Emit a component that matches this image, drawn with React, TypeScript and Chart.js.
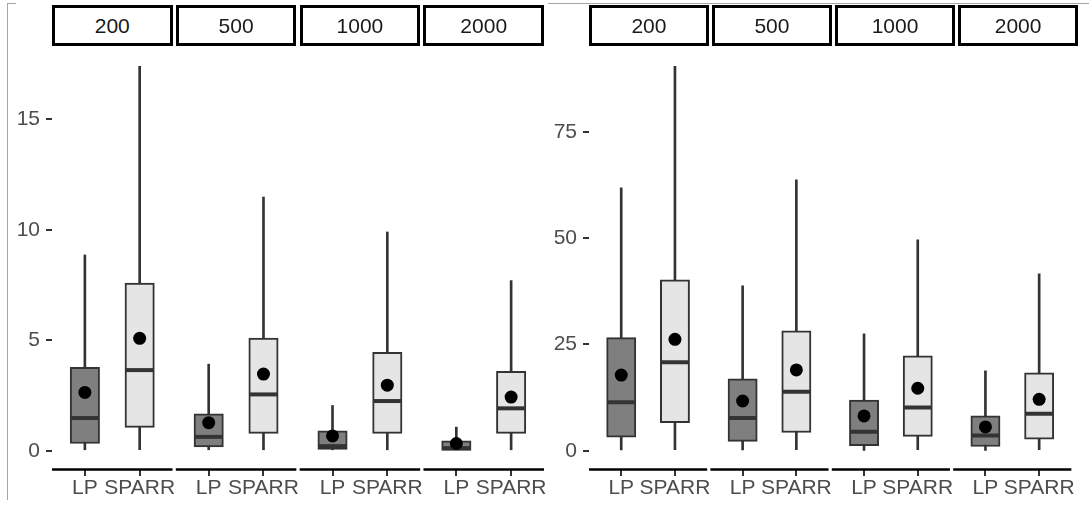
import React, { useEffect, useRef } from "react";
import { Chart, registerables } from "chart.js";

Chart.register(...registerables);

const FONT = '"Liberation Sans", Arial, Helvetica, sans-serif';
const W = 1089;
const H = 506;

const facetLabels = ["200", "500", "1000", "2000"];
const methodLabels = ["LP", "SPARR"];

// ---- Left panel (values) ----
const leftLpLow = [0, 0, 0, 0];
const leftLpQ1 = [0.33, 0.17, 0.06, 0.02];
const leftLpMedian = [1.48, 0.63, 0.21, 0.12];
const leftLpQ3 = [3.77, 1.67, 0.9, 0.45];
const leftLpHigh = [8.86, 3.92, 2.05, 1.07];
const leftLpMean = [2.64, 1.27, 0.67, 0.33];

const leftSparrLow = [0, 0, 0, 0];
const leftSparrQ1 = [1.06, 0.79, 0.79, 0.79];
const leftSparrMedian = [3.65, 2.55, 2.25, 1.92];
const leftSparrQ3 = [7.59, 5.1, 4.45, 3.6];
const leftSparrHigh = [17.4, 11.48, 9.9, 7.7];
const leftSparrMean = [5.09, 3.47, 2.97, 2.43];

const leftYTicks = [0, 5, 10, 15];

// ---- Right panel (values) ----
const rightLpLow = [0.2, 0.2, 0.1, 0.1];
const rightLpQ1 = [3.2, 2.2, 1.2, 1.0];
const rightLpMedian = [11.4, 7.7, 4.5, 3.6];
const rightLpQ3 = [26.6, 16.9, 11.9, 8.2];
const rightLpHigh = [61.8, 38.8, 27.5, 18.8];
const rightLpMean = [17.8, 11.7, 8.2, 5.6];

const rightSparrLow = [0, 0, 0, 0];
const rightSparrQ1 = [6.6, 4.3, 3.4, 2.7];
const rightSparrMedian = [20.8, 13.9, 10.2, 8.7];
const rightSparrQ3 = [40.2, 28.2, 22.3, 18.3];
const rightSparrHigh = [90.4, 63.7, 49.6, 41.6];
const rightSparrMean = [26.2, 19.0, 14.7, 12.1];

const rightYTicks = [0, 25, 50, 75];

// ---- layout (facet geometry in x units, ggplot-like) ----
const FACET_UNITS = 2.2;
const GAP_UNITS = 0.06;
const X_MAX = 4 * FACET_UNITS + 3 * GAP_UNITS;
const AREA_TOP = 47;
const AREA_BOTTOM = 470;

type Panel = {
  padLeft: number;
  yWidth: number;
  areaRight: number;
  yTicks: number[];
  lp: number[][]; // low,q1,med,q3,high,mean
  sp: number[][];
};

const leftPanel: Panel = {
  padLeft: 0,
  yWidth: 52,
  areaRight: 544,
  yTicks: leftYTicks,
  lp: [leftLpLow, leftLpQ1, leftLpMedian, leftLpQ3, leftLpHigh, leftLpMean],
  sp: [leftSparrLow, leftSparrQ1, leftSparrMedian, leftSparrQ3, leftSparrHigh, leftSparrMean],
};

const rightPanel: Panel = {
  padLeft: 548,
  yWidth: 41,
  areaRight: 1078,
  yTicks: rightYTicks,
  lp: [rightLpLow, rightLpQ1, rightLpMedian, rightLpQ3, rightLpHigh, rightLpMean],
  sp: [rightSparrLow, rightSparrQ1, rightSparrMedian, rightSparrQ3, rightSparrHigh, rightSparrMean],
};

const facetStart = (k: number) => k * (FACET_UNITS + GAP_UNITS);
const lpPos = (k: number) => facetStart(k) + 0.6;
const spPos = (k: number) => facetStart(k) + 1.6;

const areaLeft = (p: Panel) => p.padLeft + p.yWidth;
const unitPx = (p: Panel) => (p.areaRight - areaLeft(p)) / X_MAX;

const facetAxisPlugin = {
  id: "facetAxis",
  afterDraw(chart: any) {
    const xs = chart.scales.x;
    const ctx = chart.ctx;
    const y = chart.chartArea.bottom - 0.5;
    ctx.save();
    ctx.strokeStyle = "#000000";
    ctx.lineWidth = 2.4;
    facetLabels.forEach((_, k) => {
      ctx.beginPath();
      ctx.moveTo(xs.getPixelForValue(facetStart(k)), y);
      ctx.lineTo(xs.getPixelForValue(facetStart(k) + FACET_UNITS), y);
      ctx.stroke();
    });
    ctx.restore();
  },
};

function buildChart(canvas: HTMLCanvasElement, p: Panel) {
  const u = unitPx(p);
  const boxPx = u * 0.5;
  const maxVal = Math.max(...p.sp[4], ...p.lp[4]);
  const yMin = -0.05 * maxVal;
  const yMax = maxVal * 1.05;
  const ks = facetLabels.map((_, k) => k);
  const tickPositions: number[] = [];
  ks.forEach((k) => {
    tickPositions.push(lpPos(k), spPos(k));
  });

  const whiskers = [
    ...ks.map((k) => ({ x: lpPos(k), y: [p.lp[0][k], p.lp[4][k]] })),
    ...ks.map((k) => ({ x: spPos(k), y: [p.sp[0][k], p.sp[4][k]] })),
  ];
  const lpBoxes = ks.map((k) => ({ x: lpPos(k), y: [p.lp[1][k], p.lp[3][k]] }));
  const spBoxes = ks.map((k) => ({ x: spPos(k), y: [p.sp[1][k], p.sp[3][k]] }));
  const medians = [
    ...ks.map((k) => ({ x: lpPos(k), y: p.lp[2][k] })),
    ...ks.map((k) => ({ x: spPos(k), y: p.sp[2][k] })),
  ];
  const means = [
    ...ks.map((k) => ({ x: lpPos(k), y: p.lp[5][k] })),
    ...ks.map((k) => ({ x: spPos(k), y: p.sp[5][k] })),
  ];

  return new Chart(canvas, {
    type: "bar",
    data: {
      datasets: [
        {
          type: "line",
          label: "mean",
          data: means,
          showLine: false,
          pointStyle: "circle",
          pointRadius: 6.5,
          pointBackgroundColor: "#000000",
          pointBorderColor: "#000000",
          pointBorderWidth: 0,
          order: 1,
        } as any,
        {
          type: "line",
          label: "median",
          data: medians,
          showLine: false,
          pointStyle: "line",
          pointRadius: boxPx / 2,
          borderColor: "#333333",
          pointBorderColor: "#333333",
          pointBorderWidth: 4,
          order: 2,
        } as any,
        {
          type: "bar",
          label: "LP",
          data: lpBoxes,
          backgroundColor: "#7f7f7f",
          borderColor: "#333333",
          borderWidth: 2,
          borderSkipped: false,
          barThickness: boxPx + 2,
          grouped: false,
          order: 3,
        } as any,
        {
          type: "bar",
          label: "SPARR",
          data: spBoxes,
          backgroundColor: "#e5e5e5",
          borderColor: "#333333",
          borderWidth: 2,
          borderSkipped: false,
          barThickness: boxPx + 2,
          grouped: false,
          order: 3,
        } as any,
        {
          type: "bar",
          label: "whisker",
          data: whiskers,
          backgroundColor: "#333333",
          borderWidth: 0,
          barThickness: 2,
          grouped: false,
          order: 4,
        } as any,
      ],
    },
    options: {
      responsive: false,
      animation: false,
      layout: {
        padding: { left: p.padLeft, right: W - p.areaRight, top: AREA_TOP, bottom: 0 },
      },
      plugins: {
        legend: { display: false },
        tooltip: { enabled: false },
        title: { display: false },
      },
      scales: {
        x: {
          type: "linear",
          min: 0,
          max: X_MAX,
          offset: false,
          bounds: "data",
          grid: {
            display: true,
            drawOnChartArea: false,
            drawTicks: true,
            tickLength: 6,
            color: "#333333",
            lineWidth: 2,
            offset: false,
          },
          border: { display: false },
          afterBuildTicks: (s: any) => {
            s.ticks = tickPositions.map((v) => ({ value: v }));
          },
          afterFit: (s: any) => {
            s.height = H - AREA_BOTTOM;
          },
          ticks: {
            autoSkip: false,
            maxRotation: 0,
            minRotation: 0,
            padding: 0,
            color: "#4d4d4d",
            font: { family: FONT, size: 21 },
            callback: (_v: any, i: number) => methodLabels[i % 2],
          },
        },
        y: {
          type: "linear",
          min: yMin,
          max: yMax,
          bounds: "data",
          grid: {
            display: true,
            drawOnChartArea: false,
            drawTicks: true,
            tickLength: 6,
            color: "#333333",
            lineWidth: 2,
          },
          border: { display: false },
          afterBuildTicks: (s: any) => {
            s.ticks = p.yTicks.map((v) => ({ value: v }));
          },
          afterFit: (s: any) => {
            s.width = p.yWidth;
          },
          ticks: {
            padding: 6,
            color: "#4d4d4d",
            font: { family: FONT, size: 21 },
            callback: (v: any) => String(v),
          },
        },
      },
    } as any,
    plugins: [facetAxisPlugin],
  });
}

function Strips({ p }: { p: Panel }) {
  const u = unitPx(p);
  return (
    <>
      {facetLabels.map((lab, k) => (
        <div
          key={lab}
          style={{
            position: "absolute",
            left: areaLeft(p) + facetStart(k) * u,
            top: 5,
            width: FACET_UNITS * u,
            height: 41,
            boxSizing: "border-box",
            border: "3px solid #000",
            background: "#fff",
            display: "flex",
            alignItems: "center",
            justifyContent: "center",
            fontFamily: FONT,
            fontSize: 21,
            color: "#1a1a1a",
          }}
        >
          {lab}
        </div>
      ))}
    </>
  );
}

export default function App() {
  const leftRef = useRef<HTMLCanvasElement>(null);
  const rightRef = useRef<HTMLCanvasElement>(null);

  useEffect(() => {
    const a = buildChart(leftRef.current!, leftPanel);
    const b = buildChart(rightRef.current!, rightPanel);
    return () => {
      a.destroy();
      b.destroy();
    };
  }, []);

  const canvasStyle: React.CSSProperties = {
    position: "absolute",
    left: 0,
    top: 0,
    width: W,
    height: H,
    display: "block",
  };

  return (
    <div
      style={{
        position: "absolute",
        left: 0,
        top: 0,
        width: W,
        height: H,
        background: "#ffffff",
        overflow: "hidden",
      }}
    >
      <canvas ref={leftRef} width={W} height={H} style={canvasStyle} />
      <canvas ref={rightRef} width={W} height={H} style={canvasStyle} />
      <Strips p={leftPanel} />
      <Strips p={rightPanel} />
      <div style={{ position: "absolute", left: 7, top: 3, width: 1, height: 497, background: "#a6a6a6" }} />
      <div style={{ position: "absolute", left: 7, top: 3, width: 9, height: 1, background: "#a6a6a6" }} />
      <div style={{ position: "absolute", left: 548, top: 3, width: 541, height: 1, background: "#a6a6a6" }} />
    </div>
  );
}
